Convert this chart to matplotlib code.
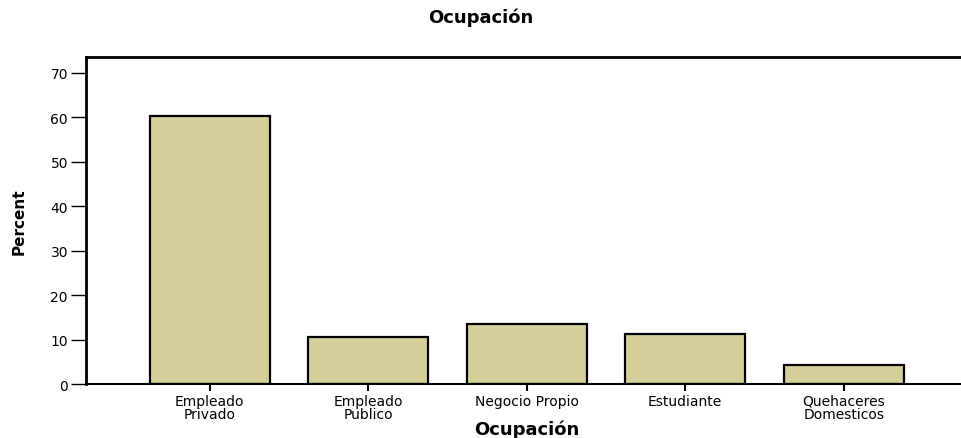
import matplotlib.pyplot as plt

# data
categories = ["Empleado\nPrivado", "Empleado\nPublico", "Negocio Propio",
              "Estudiante", "Quehaceres\nDomesticos"]
percent = [60.3, 10.6, 13.5, 11.3, 4.3]
yticks = [0, 10, 20, 30, 40, 50, 60, 70]

plt.rcParams['font.family'] = ['DejaVu Sans']

fig = plt.figure(figsize=(9.61, 4.39), dpi=100)
ax = fig.add_axes([0.0895, 0.123, 0.9105, 0.745])

x = range(len(categories))
ax.bar(x, percent, width=0.757, color='#d4cf98', edgecolor='black', linewidth=1.6)

ax.set_xlim(-0.78, 4.74)
ax.set_ylim(0, 73.6)
ax.set_xticks(list(x))
ax.set_xticklabels(categories, fontsize=10, linespacing=0.9)
ax.set_yticks(yticks)
ax.tick_params(axis='y', direction='out', length=11, width=1, labelsize=10, pad=2)
ax.tick_params(axis='x', direction='out', length=5, width=1.5, pad=2)

ax.spines['right'].set_visible(False)
ax.spines['left'].set_linewidth(2)
ax.spines['top'].set_linewidth(2)
ax.spines['bottom'].set_linewidth(1.5)

ax.set_ylabel("Percent", fontsize=11, fontweight='bold', labelpad=17)
ax.set_xlabel("Ocupación", fontsize=13, fontweight='bold')
ax.xaxis.set_label_coords(0.504, -0.11)
fig.text(0.5, 0.959, "Ocupación", ha='center', va='center', fontsize=13, fontweight='bold')

fig.savefig("out.png", dpi=100)
